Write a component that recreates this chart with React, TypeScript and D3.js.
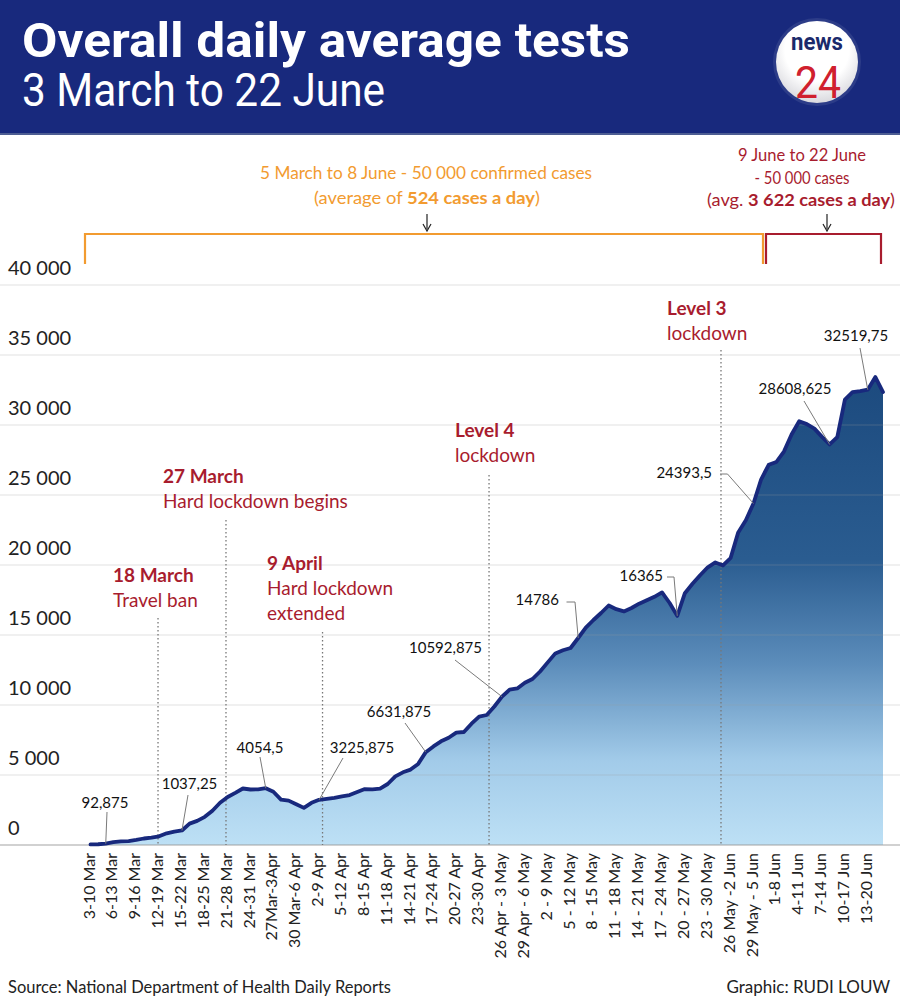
import React from "react";
import * as d3 from "d3";

const W = 900;
const H = 1003;

// Daily averages (rolling 7-day windows starting 3-10 Mar through 15-22 Jun)
const values: number[] = [
  40, 55, 92.875, 200, 264, 280, 364, 464, 521, 621,
  836, 957, 1037.25, 1529, 1721, 2014, 2450, 3014, 3429, 3721,
  4036, 3964, 3979, 4054.5, 3807, 3243, 3171, 2914, 2650, 3014,
  3225.875, 3293, 3364, 3471, 3564, 3779, 3993, 3979, 4029, 4357,
  4900, 5193, 5386, 5793, 6631.875, 7043, 7407, 7664, 8029, 8071,
  8664, 9164, 9286, 9893, 10592.875, 11093, 11179, 11586, 11857, 12393,
  13043, 13686, 13907, 14071, 14786, 15529, 16071, 16571, 17107, 16843,
  16686, 16929, 17236, 17486, 17729, 18043, 17286, 16365, 17986, 18657,
  19271, 19836, 20186, 19971, 20500, 22329, 23200, 24393.5, 26107, 27157,
  27357, 28100, 29321, 30264, 30064, 29743, 29150, 28608.625, 29136, 31821,
  32343, 32414, 32519.75, 33421, 32350,
];

const tickLabels: string[] = [
  "3-10 Mar", "6-13 Mar", "9-16 Mar", "12-19 Mar", "15-22 Mar", "18-25 Mar",
  "21-28 Mar", "24-31 Mar", "27Mar-3Apr", "30 Mar-6 Apr", "2-9 Apr", "5-12 Apr",
  "8-15 Apr", "11-18 Apr", "14-21 Apr", "17-24 Apr", "20-27 Apr", "23-30 Apr",
  "26 Apr - 3 May", "29 Apr - 6 May", "2 - 9 May", "5 - 12 May", "8 - 15 May",
  "11 - 18 May", "14 - 21 May", "17 - 24 May", "20 - 27 May", "23 - 30 May",
  "26 May -2 Jun", "29 May - 5 Jun", "1-8 Jun", "4-11 Jun", "7-14 Jun",
  "10-17 Jun", "13-20 Jun",
];

const yTicks: number[] = [0, 5000, 10000, 15000, 20000, 25000, 30000, 35000, 40000];
const yTickLabels: string[] = ["0", "5 000", "10 000", "15 000", "20 000", "25 000", "30 000", "35 000", "40 000"];

// Event markers: fractional index on the x scale
const eventIdx: number[] = [8.86, 17.78, 30.45, 52.3, 82.74];
const eventTitles: string[] = ["18 March", "27 March", "9 April", "Level 4", "Level 3"];
const eventLines: string[][] = [["Travel ban"], ["Hard lockdown begins"], ["Hard lockdown", "extended"], ["lockdown"], ["lockdown"]];

// Value call-outs: data index and label
const calloutIdx: number[] = [2, 12, 23, 30, 44, 54, 64, 77, 87, 97, 102];
const calloutText: string[] = ["92,875", "1037,25", "4054,5", "3225,875", "6631,875", "10592,875", "14786", "16365", "24393,5", "28608,625", "32519,75"];

const NAVY = "#18297d";
const RED = "#a81c2e";
const ORANGE = "#f29b30";
const BODY = "Lato, 'Open Sans', sans-serif";

export default function App() {
  const x = d3.scaleLinear().domain([0, values.length - 1]).range([90.5, 883]);
  const y = d3.scaleLinear().domain([0, 40000]).range([845, 285]);

  const area = d3.area<number>().x((_, i) => x(i)).y0(y(0)).y1((d) => y(d))(values) || "";
  const line = d3.line<number>().x((_, i) => x(i)).y((d) => y(d))(values) || "";

  const eventLayout = [
    { lx: 113, ly: 577, top: 618 },
    { lx: 163, ly: 478, top: 520 },
    { lx: 267, ly: 565, top: 632 },
    { lx: 455, ly: 432, top: 475 },
    { lx: 667, ly: 310, top: 350 },
  ];

  const calloutLayout = [
    { tx: 105, ty: 804, anchor: "middle", lx: 107, ly: 812, elbow: null },
    { tx: 189.5, ty: 785, anchor: "middle", lx: 188, ly: 795, elbow: null },
    { tx: 260, ty: 749, anchor: "middle", lx: 260, ly: 757, elbow: null },
    { tx: 362, ty: 749, anchor: "middle", lx: 343, ly: 758, elbow: null },
    { tx: 399, ty: 713, anchor: "middle", lx: 405, ly: 723, elbow: null },
    { tx: 445.5, ty: 649, anchor: "middle", lx: 455, ly: 660, elbow: null },
    { tx: 559, ty: 601, anchor: "end", lx: 566.5, ly: 602, elbow: [575, 602] },
    { tx: 663, ty: 577, anchor: "end", lx: 667, ly: 577, elbow: [674, 577] },
    { tx: 712, ty: 474, anchor: "end", lx: 720, ly: 474, elbow: [727.5, 474] },
    { tx: 795, ty: 390, anchor: "middle", lx: 804, ly: 401, elbow: null },
    { tx: 856, ty: 337, anchor: "middle", lx: 860, ly: 348, elbow: null },
  ];

  return (
    <svg
      width={W}
      height={H}
      viewBox={`0 0 ${W} ${H}`}
      style={{ position: "absolute", left: 0, top: 0, display: "block", background: "#fff" }}
    >
      <defs>
        <linearGradient id="areaGrad" gradientUnits="userSpaceOnUse" x1={0} y1={376} x2={0} y2={845}>
          <stop offset="0" stopColor="#1c4a7e" />
          <stop offset="0.39" stopColor="#2a5c90" />
          <stop offset="0.61" stopColor="#5b8cba" />
          <stop offset="0.82" stopColor="#a2cbe9" />
          <stop offset="1" stopColor="#bde0f5" />
        </linearGradient>
        <radialGradient id="logoGrad" cx="0.5" cy="0.35" r="0.65">
          <stop offset="0.6" stopColor="#ffffff" />
          <stop offset="1" stopColor="#d9d9de" />
        </radialGradient>
      </defs>
      <rect x={0} y={0} width={W} height={H} fill="#fff" />

      {/* Header */}
      <rect x={0} y={0} width={W} height={133} fill={NAVY} />
      <rect x={0} y={133} width={W} height={2} fill="#4d5d92" />
      <text x={22} y={57} fill="#fff" fontFamily="Roboto, sans-serif" fontWeight={700} fontSize={48}
        textLength={608} lengthAdjust="spacingAndGlyphs">Overall daily average tests</text>
      <text x={22} y={106} fill="#fff" fontFamily="Roboto, sans-serif" fontWeight={400} fontSize={47}
        textLength={363} lengthAdjust="spacingAndGlyphs">3 March to 22 June</text>
      <circle cx={817} cy={62} r={44} fill="#2c3c88" />
      <circle cx={817} cy={62} r={41} fill="url(#logoGrad)" />
      <text x={817} y={50} textAnchor="middle" fill="#1b2a6b" fontFamily="Roboto, sans-serif" fontWeight={700}
        fontSize={24} textLength={52} lengthAdjust="spacingAndGlyphs">news</text>
      <text x={818} y={98} textAnchor="middle" fill="#d0202e" fontFamily="Roboto, sans-serif" fontWeight={400}
        fontSize={45} textLength={46} lengthAdjust="spacingAndGlyphs">24</text>

      {/* Brackets */}
      <text x={426} y={179} textAnchor="middle" fill={ORANGE} fontFamily={BODY} fontSize={17}
        textLength={332} lengthAdjust="spacingAndGlyphs">5 March to 8 June - 50 000 confirmed cases</text>
      <text x={427} y={204} textAnchor="middle" fill={ORANGE} fontFamily={BODY} fontSize={17}
        textLength={226} lengthAdjust="spacingAndGlyphs">
        (average of <tspan fontWeight={700}>524 cases a day</tspan>)
      </text>
      <line x1={427} y1={214} x2={427} y2={229} stroke="#222" strokeWidth={1.2} />
      <path d="M423,224 L427,231 L431,224" fill="none" stroke="#222" strokeWidth={1.2} />
      <path d="M85,264 L85,234 L763,234 L763,264" fill="none" stroke={ORANGE} strokeWidth={2.2} />

      <text x={802} y={161} textAnchor="middle" fill={RED} fontFamily={BODY} fontSize={17}
        textLength={128} lengthAdjust="spacingAndGlyphs">9 June to 22 June</text>
      <text x={802} y={184} textAnchor="middle" fill={RED} fontFamily={BODY} fontSize={17}
        textLength={95} lengthAdjust="spacingAndGlyphs">- 50 000 cases</text>
      <text x={801} y={206} textAnchor="middle" fill={RED} fontFamily={BODY} fontSize={17}
        textLength={188} lengthAdjust="spacingAndGlyphs">
        (avg. <tspan fontWeight={700}>3 622 cases a day</tspan>)
      </text>
      <line x1={827} y1={214} x2={827} y2={229} stroke="#222" strokeWidth={1.2} />
      <path d="M823,224 L827,231 L831,224" fill="none" stroke="#222" strokeWidth={1.2} />
      <path d="M766,264 L766,234 L881,234 L881,264" fill="none" stroke={RED} strokeWidth={2.2} />

      {/* Area */}
      <path d={area} fill="url(#areaGrad)" />

      {/* Gridlines */}
      {yTicks.map((t) => (
        <line key={t} x1={0} x2={W} y1={y(t)} y2={y(t)} stroke="#9a9a9a" strokeOpacity={t === 0 ? 0.45 : 0.3} strokeWidth={t === 0 ? 2 : 1} />
      ))}
      {yTicks.map((t, i) => (
        <text key={"yl" + t} x={8} y={y(t) - 10} fill="#222" fontFamily={BODY} fontSize={20}>{yTickLabels[i]}</text>
      ))}

      {/* Event markers */}
      {eventIdx.map((e, i) => (
        <g key={"ev" + i}>
          <line x1={x(e)} x2={x(e)} y1={eventLayout[i].top} y2={845} stroke="#777" strokeWidth={1.3} strokeDasharray="1.5,2.5" />
          <text x={eventLayout[i].lx} y={eventLayout[i].ly} dominantBaseline="middle" fill={RED} fontFamily={BODY}
            fontWeight={700} fontSize={19}>{eventTitles[i]}</text>
          {eventLines[i].map((l, j) => (
            <text key={j} x={eventLayout[i].lx} y={eventLayout[i].ly + 25 * (j + 1)} dominantBaseline="middle" fill={RED}
              fontFamily={BODY} fontSize={19}>{l}</text>
          ))}
        </g>
      ))}

      <path d={line} fill="none" stroke={NAVY} strokeWidth={3.8} strokeLinejoin="round" strokeLinecap="round" />

      {/* Callouts */}
      {calloutIdx.map((ci, i) => {
        const L = calloutLayout[i];
        const px = x(ci);
        const py = y(values[ci]);
        const pts = L.elbow ? `M${L.lx},${L.ly} L${L.elbow[0]},${L.elbow[1]} L${px},${py}` : `M${L.lx},${L.ly} L${px},${py}`;
        return (
          <g key={"co" + i}>
            <path d={pts} fill="none" stroke="#7a7a7a" strokeWidth={1} />
            <text x={L.tx} y={L.ty} textAnchor={L.anchor as any} dominantBaseline="middle" fill="#111"
              fontFamily={BODY} fontSize={15}>{calloutText[i]}</text>
          </g>
        );
      })}

      {/* X tick labels */}
      {tickLabels.map((t, i) => (
        <text key={"xt" + i} transform={`translate(${x(i * 3)},853) rotate(-90)`} textAnchor="end" dominantBaseline="middle"
          fill="#222" fontFamily={BODY} fontSize={16}>{t}</text>
      ))}

      {/* Footer */}
      <text x={8} y={993} fill="#222" fontFamily={BODY} fontSize={17} textLength={383} lengthAdjust="spacingAndGlyphs">
        Source: National Department of Health Daily Reports
      </text>
      <text x={890} y={993} textAnchor="end" fill="#222" fontFamily={BODY} fontSize={17}>Graphic: RUDI LOUW</text>
    </svg>
  );
}
